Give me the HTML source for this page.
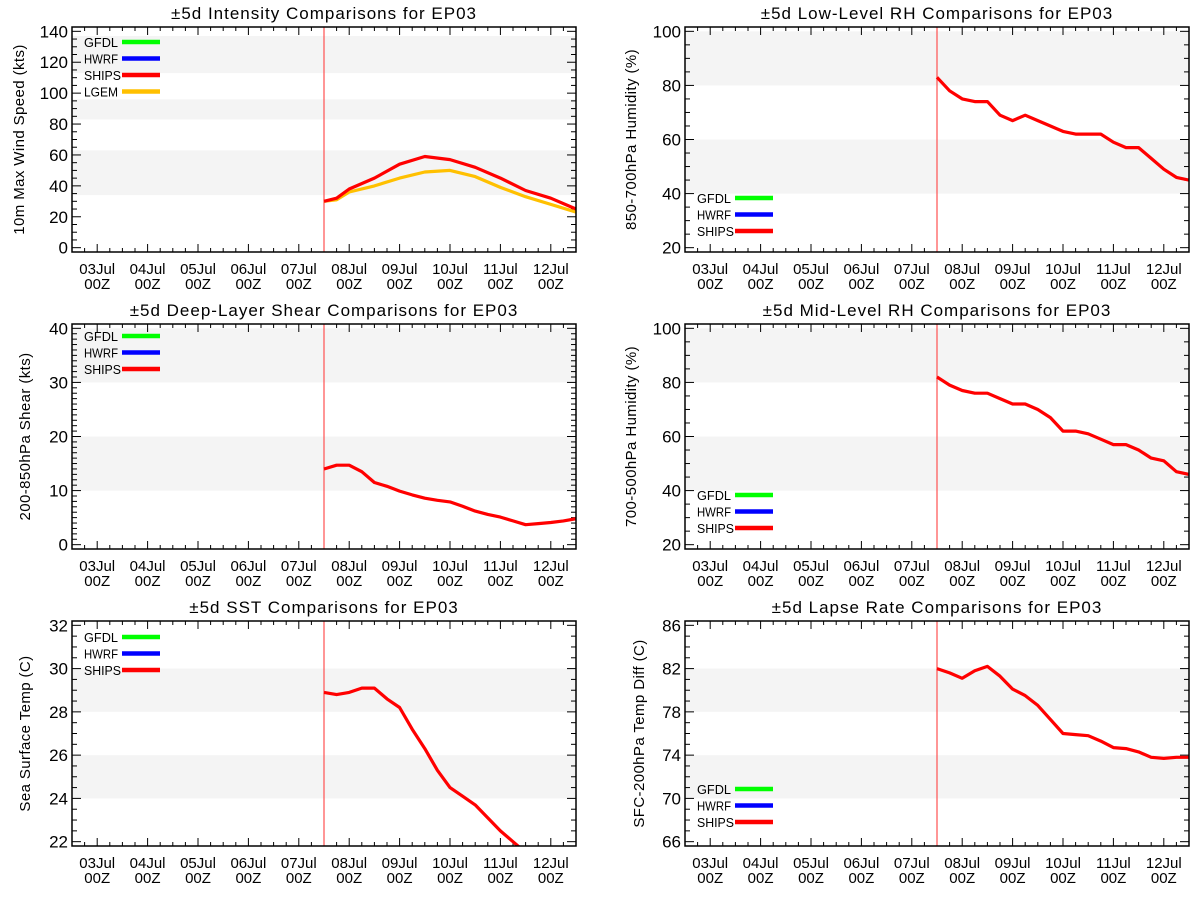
<!DOCTYPE html>
<html><head><meta charset="utf-8"><style>
body{margin:0;background:#fff;width:1200px;height:900px;overflow:hidden}
svg{display:block}
text{font-family:"Liberation Sans",sans-serif;fill:#000}
</style></head><body>
<svg id="s" width="1200" height="900" viewBox="0 0 1200 900"></svg>
<script>
// ---- data ----
const dayLabels = ["03Jul","04Jul","05Jul","06Jul","07Jul","08Jul","09Jul","10Jul","11Jul","12Jul"];
const hours6 = [0,6,12,18,24,30,36,42,48,54,60,66,72,78,84,90,96,102,108,114,120];
const intHours = [0,6,12,24,36,48,60,72,84,96,108,120];
const intShips = [30,32,38,45,54,59,57,52,45,37,32,25];
const intLgem = [30,31,36,40,45,49,50,46,39,33,28,23];
const lowRh = [83,78,75,74,74,69,67,69,67,65,63,62,62,62,59,57,57,53,49,46,45];
const shear = [14,14.7,14.7,13.5,11.5,10.8,9.9,9.2,8.6,8.2,7.9,7.1,6.2,5.6,5.1,4.4,3.7,3.9,4.1,4.4,4.8];
const midRh = [82,79,77,76,76,74,72,72,70,67,62,62,61,59,57,57,55,52,51,47,46];
const sst = [28.9,28.8,28.9,29.1,29.1,28.6,28.2,27.2,26.3,25.3,24.5,24.1,23.7,23.1,22.5,22.0,21.5,21.1,20.8,20.5,20.3];
const lapse = [82.0,81.6,81.1,81.8,82.2,81.3,80.1,79.5,78.6,77.3,76.0,75.9,75.8,75.3,74.7,74.6,74.3,73.8,73.7,73.8,73.8];

const NS="http://www.w3.org/2000/svg";
const svg=document.getElementById('s');
function el(tag,attrs,parent){const e=document.createElementNS(NS,tag);for(const k in attrs)e.setAttribute(k,attrs[k]);(parent||svg).appendChild(e);return e;}

const panels=[
 {key:"intensity",title:"\u00b15d Intensity Comparisons for EP03",ytitle:"10m Max Wind Speed (kts)",x0:72,y0:27,ymin:0,ymax:140,major:20,minor:5,bands:[[34,63],[83,96],[113,137]],
  series:[{name:"lgem",h:intHours,v:intLgem,c:"#ffc000"},{name:"ships",h:intHours,v:intShips,c:"#ff0000"}],
  legend:["GFDL","HWRF","SHIPS","LGEM"],legTop:42,ytx:24},
 {key:"low-rh",title:"\u00b15d Low-Level RH Comparisons for EP03",ytitle:"850-700hPa Humidity (%)",x0:685,y0:27,ymin:20,ymax:100,major:20,minor:5,bands:[[40,60],[80,100]],
  series:[{name:"ships",h:hours6,v:lowRh,c:"#ff0000"}],legend:["GFDL","HWRF","SHIPS"],legTop:198,ytx:636},
 {key:"shear",title:"\u00b15d Deep-Layer Shear Comparisons for EP03",ytitle:"200-850hPa Shear (kts)",x0:72,y0:324,ymin:0,ymax:40,major:10,minor:1,bands:[[10,20],[30,40]],
  series:[{name:"ships",h:hours6,v:shear,c:"#ff0000"}],legend:["GFDL","HWRF","SHIPS"],legTop:336,ytx:30},
 {key:"mid-rh",title:"\u00b15d Mid-Level RH Comparisons for EP03",ytitle:"700-500hPa Humidity (%)",x0:685,y0:324,ymin:20,ymax:100,major:20,minor:5,bands:[[40,60],[80,100]],
  series:[{name:"ships",h:hours6,v:midRh,c:"#ff0000"}],legend:["GFDL","HWRF","SHIPS"],legTop:495,ytx:636},
 {key:"sst",title:"\u00b15d SST Comparisons for EP03",ytitle:"Sea Surface Temp (C)",x0:72,y0:621,ymin:22,ymax:32,major:2,minor:0.5,bands:[[24,26],[28,30]],
  series:[{name:"ships",h:hours6,v:sst,c:"#ff0000"}],legend:["GFDL","HWRF","SHIPS"],legTop:637,ytx:30},
 {key:"lapse",title:"\u00b15d Lapse Rate Comparisons for EP03",ytitle:"SFC-200hPa Temp Diff (C)",x0:685,y0:621,ymin:66,ymax:86,major:4,minor:1,bands:[[70,74],[78,82]],
  series:[{name:"ships",h:hours6,v:lapse,c:"#ff0000"}],legend:["GFDL","HWRF","SHIPS"],legTop:789,ytx:644}
];
const legColors={GFDL:"#00ff00",HWRF:"#0000ff",SHIPS:"#ff0000",LGEM:"#ffc000"};
const W=504,H=225;

panels.forEach((p,pi)=>{
  const g=el('g',{});
  
  
  const span=p.ymax-p.ymin, lo=p.ymin-0.02*span, hi=p.ymax+0.02*span;
  const X=h=>p.x0+(h+120)/240*W;
  const Y=v=>p.y0+H-(v-lo)/(hi-lo)*H;
  const clipId='clip'+pi;
  const cp=el('clipPath',{id:clipId},g);el('rect',{x:p.x0,y:p.y0,width:W,height:H},cp);
  p.bands.forEach(b=>{
    const top=Math.max(Y(b[1]),p.y0);
    const r=el('rect',{x:p.x0,y:top,width:W,height:Math.min(Y(b[0]),p.y0+H)-top,fill:"#f4f4f4"},g);
    
    
  });
  const t=el('text',{x:p.x0+W/2,y:p.y0-8,'text-anchor':'middle','font-size':17,'letter-spacing':'1'},g);t.textContent=p.title;
  
  
  const nmin=Math.round(span/p.minor);
  const perMaj=Math.round(p.major/p.minor);
  for(let i=0;i<=nmin;i++){
    const v=p.ymin+i*p.minor, y=Y(v), isMaj=(i%perMaj)===0;
    const len=isMaj?9:5;
    el('line',{x1:p.x0,x2:p.x0+len,y1:y,y2:y,stroke:"#000",'stroke-width':1},g);
    el('line',{x1:p.x0+W,x2:p.x0+W-len,y1:y,y2:y,stroke:"#000",'stroke-width':1},g);
    if(isMaj){
      const lt=el('text',{x:p.x0-4,y:y+6,'text-anchor':'end','font-size':17},g);lt.textContent=String(Math.round(v));
      
      
    }
  }
  for(let h=-120;h<=120;h+=6){
    const x=X(h), maj=((h+12)%24+24)%24===0;
    const len=maj?8:4;
    el('line',{x1:x,x2:x,y1:p.y0+H,y2:p.y0+H-len,stroke:"#000",'stroke-width':1},g);
    el('line',{x1:x,x2:x,y1:p.y0,y2:p.y0+len,stroke:"#000",'stroke-width':1},g);
  }
  dayLabels.forEach((d,i)=>{
    const x=X(-108+i*24);
    const a=el('text',{x:x,y:p.y0+H+22,'text-anchor':'middle','font-size':15},g);a.textContent=d;
    
    
    const b=el('text',{x:x,y:p.y0+H+37,'text-anchor':'middle','font-size':15},g);b.textContent="00Z";
    
    
  });
  const yt=el('text',{x:0,y:0,'text-anchor':'middle','font-size':15,'letter-spacing':'0.4',transform:`translate(${p.ytx},${p.y0+H/2}) rotate(-90)`},g);
  yt.textContent=p.ytitle;
  
  
  const nl=el('line',{x1:X(0),x2:X(0),y1:p.y0,y2:p.y0+H,stroke:"#ff5050",'stroke-width':1.2},g);
  
  
  p.series.forEach(s=>{
    const pts=s.h.map((h,i)=>X(h).toFixed(1)+','+Y(s.v[i]).toFixed(1)).join(' ');
    const pl=el('polyline',{points:pts,fill:'none',stroke:s.c,'stroke-width':3.2,'stroke-linejoin':'round','clip-path':`url(#${clipId})`},g);
    
    
  });
  p.legend.forEach((n,i)=>{
    const y=p.legTop+i*16.5;
    const lt=el('text',{x:p.x0+12,y:y+5,'font-size':13,'textLength':n.length>4?37:34,'lengthAdjust':'spacingAndGlyphs'},g);lt.textContent=n;
    
    
    el('line',{x1:p.x0+50,x2:p.x0+88,y1:y,y2:y,stroke:legColors[n],'stroke-width':4.5},g);
  });
  const f=el('rect',{x:p.x0,y:p.y0,width:W,height:H,fill:'none',stroke:'#000','stroke-width':1.5},g);
  
  
});
</script>
</body></html>
